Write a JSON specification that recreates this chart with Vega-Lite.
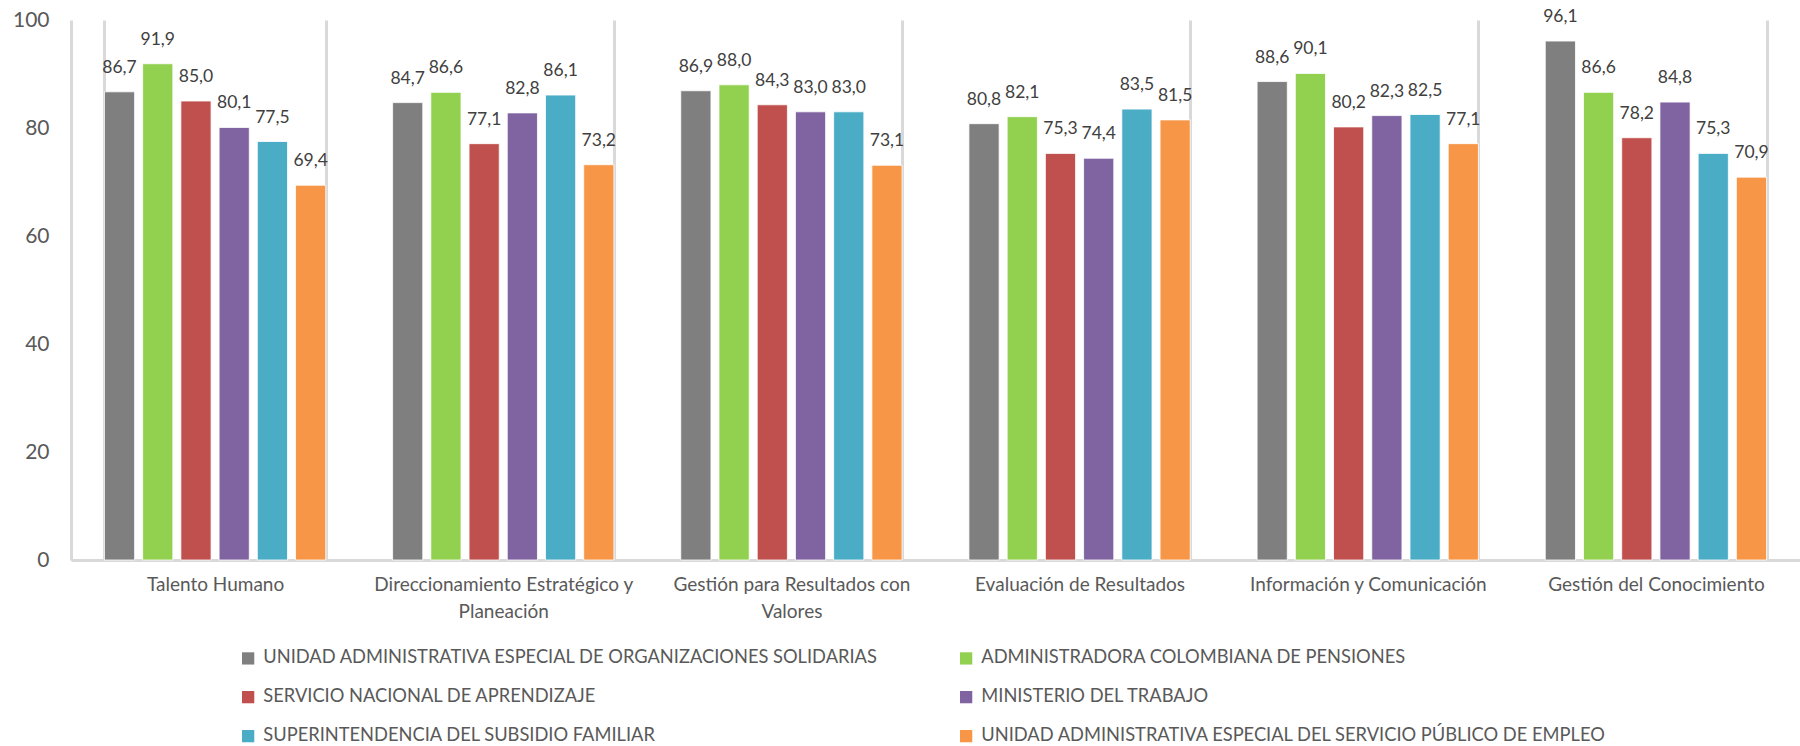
{
  "$schema": "https://vega.github.io/schema/vega-lite/v6.json",
  "width": 1729,
  "height": 540,
  "autosize": {"type": "none"},
  "padding": {"left": 71, "top": 20, "right": 0, "bottom": 186},
  "background": "white",
  "config": {
    "locale": {"number": {"decimal": ",", "thousands": ".", "grouping": [3], "currency": ["$", ""]}},
    "view": {"stroke": null},
    "font": "Lato"
  },
  "data": {"values": [
    {"c": "Talento Humano", "e": "UNIDAD ADMINISTRATIVA ESPECIAL DE ORGANIZACIONES SOLIDARIAS", "v": 86.7},
    {"c": "Talento Humano", "e": "ADMINISTRADORA COLOMBIANA DE PENSIONES", "v": 91.9},
    {"c": "Talento Humano", "e": "SERVICIO NACIONAL DE APRENDIZAJE", "v": 85.0},
    {"c": "Talento Humano", "e": "MINISTERIO DEL TRABAJO", "v": 80.1},
    {"c": "Talento Humano", "e": "SUPERINTENDENCIA DEL SUBSIDIO FAMILIAR", "v": 77.5},
    {"c": "Talento Humano", "e": "UNIDAD ADMINISTRATIVA ESPECIAL DEL SERVICIO PÚBLICO DE EMPLEO", "v": 69.4},
    {"c": "Direccionamiento Estratégico y Planeación", "e": "UNIDAD ADMINISTRATIVA ESPECIAL DE ORGANIZACIONES SOLIDARIAS", "v": 84.7},
    {"c": "Direccionamiento Estratégico y Planeación", "e": "ADMINISTRADORA COLOMBIANA DE PENSIONES", "v": 86.6},
    {"c": "Direccionamiento Estratégico y Planeación", "e": "SERVICIO NACIONAL DE APRENDIZAJE", "v": 77.1},
    {"c": "Direccionamiento Estratégico y Planeación", "e": "MINISTERIO DEL TRABAJO", "v": 82.8},
    {"c": "Direccionamiento Estratégico y Planeación", "e": "SUPERINTENDENCIA DEL SUBSIDIO FAMILIAR", "v": 86.1},
    {"c": "Direccionamiento Estratégico y Planeación", "e": "UNIDAD ADMINISTRATIVA ESPECIAL DEL SERVICIO PÚBLICO DE EMPLEO", "v": 73.2},
    {"c": "Gestión para Resultados con Valores", "e": "UNIDAD ADMINISTRATIVA ESPECIAL DE ORGANIZACIONES SOLIDARIAS", "v": 86.9},
    {"c": "Gestión para Resultados con Valores", "e": "ADMINISTRADORA COLOMBIANA DE PENSIONES", "v": 88.0},
    {"c": "Gestión para Resultados con Valores", "e": "SERVICIO NACIONAL DE APRENDIZAJE", "v": 84.3},
    {"c": "Gestión para Resultados con Valores", "e": "MINISTERIO DEL TRABAJO", "v": 83.0},
    {"c": "Gestión para Resultados con Valores", "e": "SUPERINTENDENCIA DEL SUBSIDIO FAMILIAR", "v": 83.0},
    {"c": "Gestión para Resultados con Valores", "e": "UNIDAD ADMINISTRATIVA ESPECIAL DEL SERVICIO PÚBLICO DE EMPLEO", "v": 73.1},
    {"c": "Evaluación de Resultados", "e": "UNIDAD ADMINISTRATIVA ESPECIAL DE ORGANIZACIONES SOLIDARIAS", "v": 80.8},
    {"c": "Evaluación de Resultados", "e": "ADMINISTRADORA COLOMBIANA DE PENSIONES", "v": 82.1},
    {"c": "Evaluación de Resultados", "e": "SERVICIO NACIONAL DE APRENDIZAJE", "v": 75.3},
    {"c": "Evaluación de Resultados", "e": "MINISTERIO DEL TRABAJO", "v": 74.4},
    {"c": "Evaluación de Resultados", "e": "SUPERINTENDENCIA DEL SUBSIDIO FAMILIAR", "v": 83.5},
    {"c": "Evaluación de Resultados", "e": "UNIDAD ADMINISTRATIVA ESPECIAL DEL SERVICIO PÚBLICO DE EMPLEO", "v": 81.5},
    {"c": "Información y Comunicación", "e": "UNIDAD ADMINISTRATIVA ESPECIAL DE ORGANIZACIONES SOLIDARIAS", "v": 88.6},
    {"c": "Información y Comunicación", "e": "ADMINISTRADORA COLOMBIANA DE PENSIONES", "v": 90.1},
    {"c": "Información y Comunicación", "e": "SERVICIO NACIONAL DE APRENDIZAJE", "v": 80.2},
    {"c": "Información y Comunicación", "e": "MINISTERIO DEL TRABAJO", "v": 82.3},
    {"c": "Información y Comunicación", "e": "SUPERINTENDENCIA DEL SUBSIDIO FAMILIAR", "v": 82.5},
    {"c": "Información y Comunicación", "e": "UNIDAD ADMINISTRATIVA ESPECIAL DEL SERVICIO PÚBLICO DE EMPLEO", "v": 77.1},
    {"c": "Gestión del Conocimiento", "e": "UNIDAD ADMINISTRATIVA ESPECIAL DE ORGANIZACIONES SOLIDARIAS", "v": 96.1},
    {"c": "Gestión del Conocimiento", "e": "ADMINISTRADORA COLOMBIANA DE PENSIONES", "v": 86.6},
    {"c": "Gestión del Conocimiento", "e": "SERVICIO NACIONAL DE APRENDIZAJE", "v": 78.2},
    {"c": "Gestión del Conocimiento", "e": "MINISTERIO DEL TRABAJO", "v": 84.8},
    {"c": "Gestión del Conocimiento", "e": "SUPERINTENDENCIA DEL SUBSIDIO FAMILIAR", "v": 75.3},
    {"c": "Gestión del Conocimiento", "e": "UNIDAD ADMINISTRATIVA ESPECIAL DEL SERVICIO PÚBLICO DE EMPLEO", "v": 70.9}
  ]},
  "encoding": {
    "x": {
      "field": "c", "type": "nominal", "sort": null, "title": null,
      "scale": {"paddingInner": 0.232, "paddingOuter": 0.116},
      "axis": {
        "labelAngle": 0, "labelFontSize": 19, "labelColor": "#595959", "labelPadding": 15,
        "labelLineHeight": 27, "labelBaseline": "top", "labelLimit": 400,
        "labelExpr": "datum.label == 'Direccionamiento Estratégico y Planeación' ? ['Direccionamiento Estratégico y', 'Planeación'] : datum.label == 'Gestión para Resultados con Valores' ? ['Gestión para Resultados con', 'Valores'] : datum.label",
        "ticks": false, "domainColor": "#d9d9d9", "domainWidth": 3,
        "grid": true, "tickBand": "extent", "gridColor": "#d9d9d9", "gridWidth": 3
      }
    },
    "xOffset": {
      "field": "e", "type": "nominal", "sort": null,
      "scale": {"paddingInner": 0.21, "paddingOuter": 0}
    },
    "y": {
      "field": "v", "type": "quantitative", "title": null,
      "scale": {"domain": [0, 100], "nice": false},
      "axis": {
        "values": [0, 20, 40, 60, 80, 100], "grid": false, "ticks": false,
        "labelFontSize": 21, "labelColor": "#595959", "labelPadding": 22,
        "domainColor": "#d9d9d9", "domainWidth": 3
      }
    }
  },
  "layer": [
    {
      "mark": {"type": "bar", "stroke": "white", "strokeWidth": 0.8},
      "encoding": {
        "color": {
          "field": "e", "type": "nominal", "sort": null, "title": null,
          "scale": {
            "domain": [
              "UNIDAD ADMINISTRATIVA ESPECIAL DE ORGANIZACIONES SOLIDARIAS",
              "ADMINISTRADORA COLOMBIANA DE PENSIONES",
              "SERVICIO NACIONAL DE APRENDIZAJE",
              "MINISTERIO DEL TRABAJO",
              "SUPERINTENDENCIA DEL SUBSIDIO FAMILIAR",
              "UNIDAD ADMINISTRATIVA ESPECIAL DEL SERVICIO PÚBLICO DE EMPLEO"
            ],
            "range": ["#7f7f7f", "#92d050", "#c0504d", "#8064a2", "#4bacc6", "#f79646"]
          },
          "legend": {
            "orient": "none", "legendX": 168, "legendY": 629, "direction": "horizontal",
            "columns": 2, "columnPadding": 78, "rowPadding": 20,
            "symbolType": "square", "symbolSize": 150, "symbolStrokeWidth": 0,
            "labelFontSize": 18.3, "labelColor": "#595959", "labelLimit": 800, "labelOffset": 6
          }
        }
      }
    },
    {
      "mark": {"type": "text", "baseline": "bottom", "dy": -15, "fontSize": 17.5, "color": "#404040"},
      "encoding": {
        "text": {"field": "v", "type": "quantitative", "format": ".1f"}
      }
    }
  ]
}
